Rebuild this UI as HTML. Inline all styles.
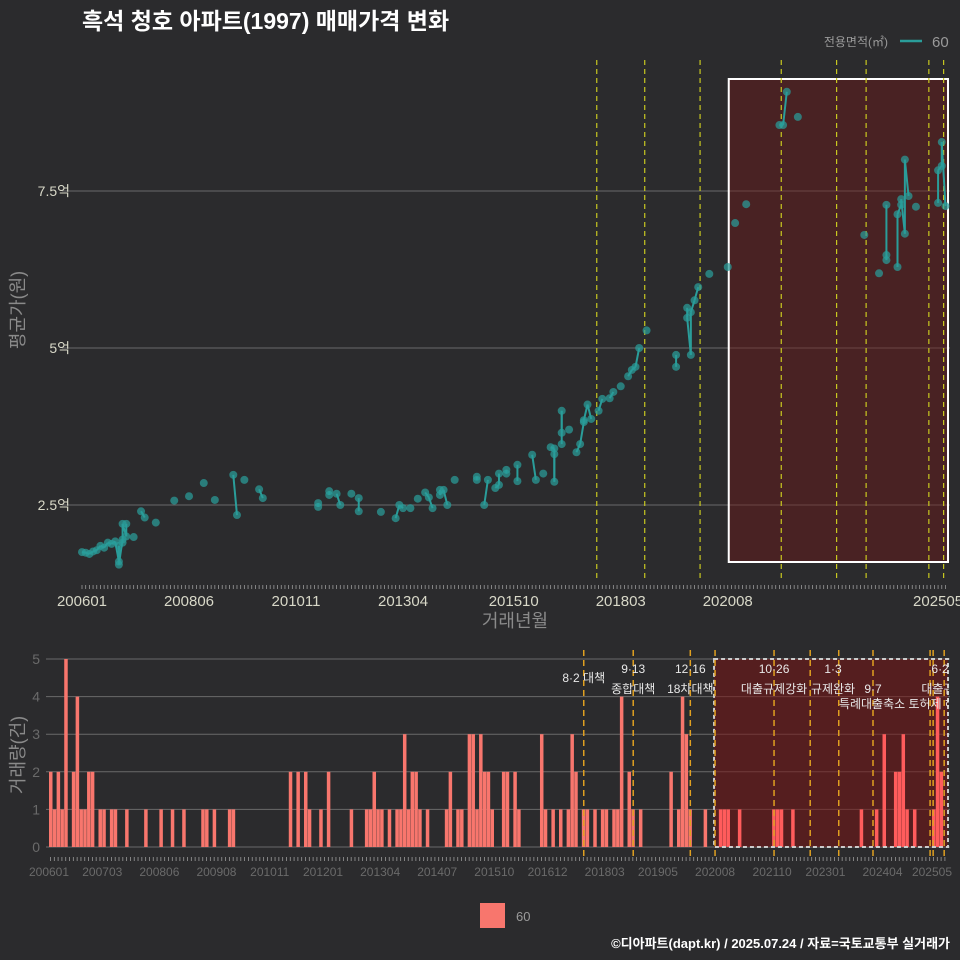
<!DOCTYPE html>
<html><head><meta charset="utf-8"><style>
html,body{margin:0;padding:0;background:#2b2b2d;}
svg{display:block;font-family:"Liberation Sans","Noto Sans CJK KR",sans-serif;}
</style></head><body>
<svg id="c" width="960" height="960" viewBox="0 0 960 960">
<rect width="960" height="960" fill="#2b2b2d"/>
<text x="82" y="29" fill="#ffffff" font-size="23" font-weight="bold">흑석 청호 아파트(1997) 매매가격 변화</text>
<g>
<text x="888" y="46" fill="#9a9a9a" font-size="12" text-anchor="end">전용면적(㎡)</text>
<line x1="900" y1="41" x2="922" y2="41" stroke="#2a9d9a" stroke-width="2.5"/>
<text x="932" y="47" fill="#9a9a9a" font-size="15">60</text>
</g>
<g id="gtop"></g>
<g id="gbot"></g>
<text x="18" y="310" fill="#8a8a8a" font-size="18" text-anchor="middle" transform="rotate(-90 18 310)" dy="6">평균가(원)</text>
<text x="515" y="627" fill="#8a8a8a" font-size="18" text-anchor="middle">거래년월</text>
<text x="18" y="755" fill="#8a8a8a" font-size="18" text-anchor="middle" transform="rotate(-90 18 755)" dy="6">거래량(건)</text>
<rect x="480" y="903" width="25" height="25" fill="#f8766d"/>
<text x="516" y="921" fill="#9a9a9a" font-size="13">60</text>
<text x="950" y="948" fill="#ffffff" font-size="13" font-weight="bold" text-anchor="end">©디아파트(dapt.kr) / 2025.07.24 / 자료=국토교통부 실거래가</text>
<defs><clipPath id="bclip"><rect x="40" y="640" width="909" height="240"/></clipPath></defs>
</svg>
<script>
// price points: month index from 2006-01, price in 억
const priceMonths=[
0,1,2,3,4,5,6,7,8,9,
10,11,12,10,11,10,11,12,14,16,
17,20,25,29,33,36,41,42,44,48,
49,64,64,67,67,69,70,73,75,75,
81,85,86,87,89,91,93,94,95,97,
97,98,99,101,107,107,109,110,112,113,
113,115,115,118,118,122,123,125,127,128,
128,128,130,130,130,132,134,135,136,136,
137,138,140,141,143,144,146,148,149,150,
151,153,161,161,164,164,165,165,166,167,
170,175,177,180,189,190,191,194,212,216,
218,218,221,218,222,223,223,221,222,224,
226,232,232,233,233,234];
const priceValues=[
1.75,1.74,1.72,1.76,1.78,1.85,1.82,1.9,1.88,1.92,
1.6,1.95,2.0,1.85,1.9,1.55,2.2,2.2,1.99,2.4,
2.3,2.22,2.57,2.64,2.85,2.58,2.98,2.34,2.9,2.75,
2.61,2.53,2.47,2.72,2.66,2.68,2.5,2.68,2.61,2.4,
2.39,2.29,2.5,2.45,2.45,2.6,2.7,2.62,2.45,2.74,
2.66,2.74,2.5,2.9,2.95,2.9,2.5,2.9,2.77,2.82,
3.0,3.06,3.0,2.88,3.14,3.3,2.9,3.0,3.42,3.4,
2.87,3.31,3.47,4.0,3.65,3.7,3.34,3.47,3.82,3.85,
4.1,3.87,4.0,4.19,4.2,4.3,4.39,4.55,4.65,4.7,
5.0,5.28,4.89,4.7,5.64,5.48,4.89,5.57,5.76,5.97,
6.18,6.29,6.99,7.29,8.55,8.55,9.08,8.68,6.8,6.19,
6.48,6.4,6.29,7.28,7.28,6.82,8.0,7.13,7.37,7.42,
7.25,7.31,7.83,7.9,8.28,7.26];
// volume per month
const volMonths=[
0,1,2,3,4,6,7,8,9,10,
11,13,14,16,17,20,25,29,32,35,
40,41,43,47,48,63,65,67,68,71,
73,79,83,84,85,86,87,89,91,92,
93,94,95,96,97,99,104,105,107,108,
110,111,112,113,114,115,116,119,120,122,
123,129,130,132,134,136,137,138,140,141,
143,145,146,148,149,150,152,153,155,163,
165,166,167,168,172,176,177,178,181,190,
191,192,195,213,217,219,222,223,224,225,
227,232,233,234];
const volValues=[
2,1,2,1,5,2,4,1,1,2,
2,1,1,1,1,1,1,1,1,1,
1,1,1,1,1,2,2,2,1,1,
2,1,1,1,2,1,1,1,1,1,
3,1,2,2,1,1,1,2,1,1,
3,3,1,3,2,2,1,2,2,2,
1,3,1,1,1,1,3,2,1,1,
1,1,1,1,1,4,2,1,1,2,
1,4,3,1,1,1,1,1,1,1,
1,1,1,1,1,3,2,2,3,1,
1,1,4,2];
const topTickLabels=["200601","200806","201011","201304","201510","201803","202008","202505"];
const topTickMonths=[0,29,58,87,117,146,175,232];
const botTickLabels=["200601","200703","200806","200908","201011","201201","201304","201407","201510","201612","201803","201905","202008","202110","202301","202404","202505"];
const botTickMonths=[0,14,29,44,58,72,87,102,117,131,146,160,175,190,204,219,232];
const priceTicks=[2.5,5,7.5];
const priceTickLabels=["2.5억","5억","7.5억"];
const volTicks=[0,1,2,3,4,5];
const topPolicyMonths=[139.5,152.5,167.5,189.5,204.5,212.5,229.5,233.5];
const botPolicyMonths=[140.5,153.5,168.5,175,190.5,200,207.5,216.5,231.5,232.3,235.2];
const policyTop=["8·2 대책","9·13","12·16","10·26","1·3","9·7","6·27"];
const policyBot=["","종합대책","18차대책","대출규제강화","규제완화","특례대출축소 토허제 해제","대출규제"];
const policyAt=[140.5,153.5,168.5,190.5,206,216.5,235];

const NS="http://www.w3.org/2000/svg";
function mk(tag,attrs,parent){const e=document.createElementNS(NS,tag);for(const k in attrs)e.setAttribute(k,attrs[k]);parent.appendChild(e);return e;}
const gTop=document.getElementById('gtop'),gBot=document.getElementById('gbot');
const tx=m=>82+m*3.69, ty=v=>505-(v-2.5)*62.8;
const bx=m=>49+m*3.806, by=v=>847-v*37.6;

priceTicks.forEach((t,i)=>{
 const l=mk('line',{x1:62,x2:950,y1:ty(t),y2:ty(t),stroke:'#6a6a6a','stroke-width':1},gTop);
 
 
 const s=mk('text',{x:70,y:ty(t)+5,fill:'#d8d8c8','font-size':14,'text-anchor':'end'},gTop);s.textContent=priceTickLabels[i];
 
 
});
const hr=mk('rect',{x:tx(175)+1,y:79,width:948-tx(175)-1,height:483,fill:'rgba(110,25,25,0.45)',stroke:'#ffffff','stroke-width':2},gTop);


topPolicyMonths.forEach(m=>{
 const l=mk('line',{x1:tx(m),x2:tx(m),y1:60,y2:578,stroke:'#c8c820','stroke-width':1.2,'stroke-dasharray':'5,4'},gTop);
 
 
});
const order=priceMonths.map((m,i)=>i).sort((a,b)=>priceMonths[a]-priceMonths[b]);
for(let k=1;k<order.length;k++){const a=order[k-1],b=order[k];
 if(priceMonths[b]-priceMonths[a]<=1){const l=mk('line',{x1:tx(priceMonths[a]),y1:ty(priceValues[a]),x2:tx(priceMonths[b]),y2:ty(priceValues[b]),stroke:'#2a9d9a','stroke-width':2},gTop);
 
 }}
priceMonths.forEach((m,i)=>{
 const c=mk('circle',{cx:tx(m),cy:ty(priceValues[i]),r:4,fill:'rgba(42,157,154,0.72)'},gTop);
 
 
});
for(let m=0;m<=234;m++){mk('line',{x1:tx(m),x2:tx(m),y1:585,y2:589,stroke:'#9a9a9a','stroke-width':0.8},gTop);}
topTickLabels.forEach((s,i)=>{const t=mk('text',{x:tx(topTickMonths[i]),y:606,fill:'#d8d8c8','font-size':15,'text-anchor':'middle'},gTop);t.textContent=s;
 
 });

volTicks.forEach(t=>{
 const l=mk('line',{x1:46,x2:950,y1:by(t),y2:by(t),stroke:'#6a6a6a','stroke-width':1},gBot);
 
 
 const s=mk('text',{x:40,y:by(t)+5,fill:'#6a6a6a','font-size':14,'text-anchor':'end'},gBot);s.textContent=t;
 
 
});
const bf=mk('rect',{x:bx(175)-1,y:659,width:948-bx(175)+1,height:188,fill:'rgba(120,20,20,0.55)'},gBot);


volMonths.forEach((m,i)=>{
 const r=mk('rect',{x:bx(m),y:by(volValues[i]),width:3.5,height:volValues[i]*37.6,fill:m>=175?'#ff5c5c':'#f8766d'},gBot);
 
 
});
const br=mk('rect',{x:bx(175)-1,y:659,width:948-bx(175)+1,height:188,fill:'none',stroke:'#cccccc','stroke-width':2,'stroke-dasharray':'4,3'},gBot);


botPolicyMonths.forEach(m=>{
 const l=mk('line',{x1:bx(m),x2:bx(m),y1:650,y2:857,stroke:'#e0a020','stroke-width':1.5,'stroke-dasharray':'6,4'},gBot);
 
 
});
const lg=mk('g',{'clip-path':'url(#bclip)'},gBot);
policyAt.forEach((m,i)=>{
 const y1=i==0?682:(i==5?693:673);
 const a=mk('text',{x:bx(m),y:y1,fill:'#e8e8e8','font-size':12,'text-anchor':'middle'},lg);a.textContent=policyTop[i];
 
 
 if(policyBot[i]){const yb=i==5?708:693;
 const b=mk('text',{x:bx(m)+(i==5?30:0),y:yb,fill:'#e8e8e8','font-size':12,'text-anchor':'middle'},lg);b.textContent=policyBot[i];
 
 }
});
for(let m=0;m<=235;m++){mk('line',{x1:bx(m)+1.5,x2:bx(m)+1.5,y1:857,y2:861,stroke:'#9a9a9a','stroke-width':0.8},gBot);}
botTickLabels.forEach((s,i)=>{const t=mk('text',{x:bx(botTickMonths[i]),y:876,fill:'#6a6a6a','font-size':12,'text-anchor':'middle'},gBot);t.textContent=s;
 
 });
</script>
</body></html>
